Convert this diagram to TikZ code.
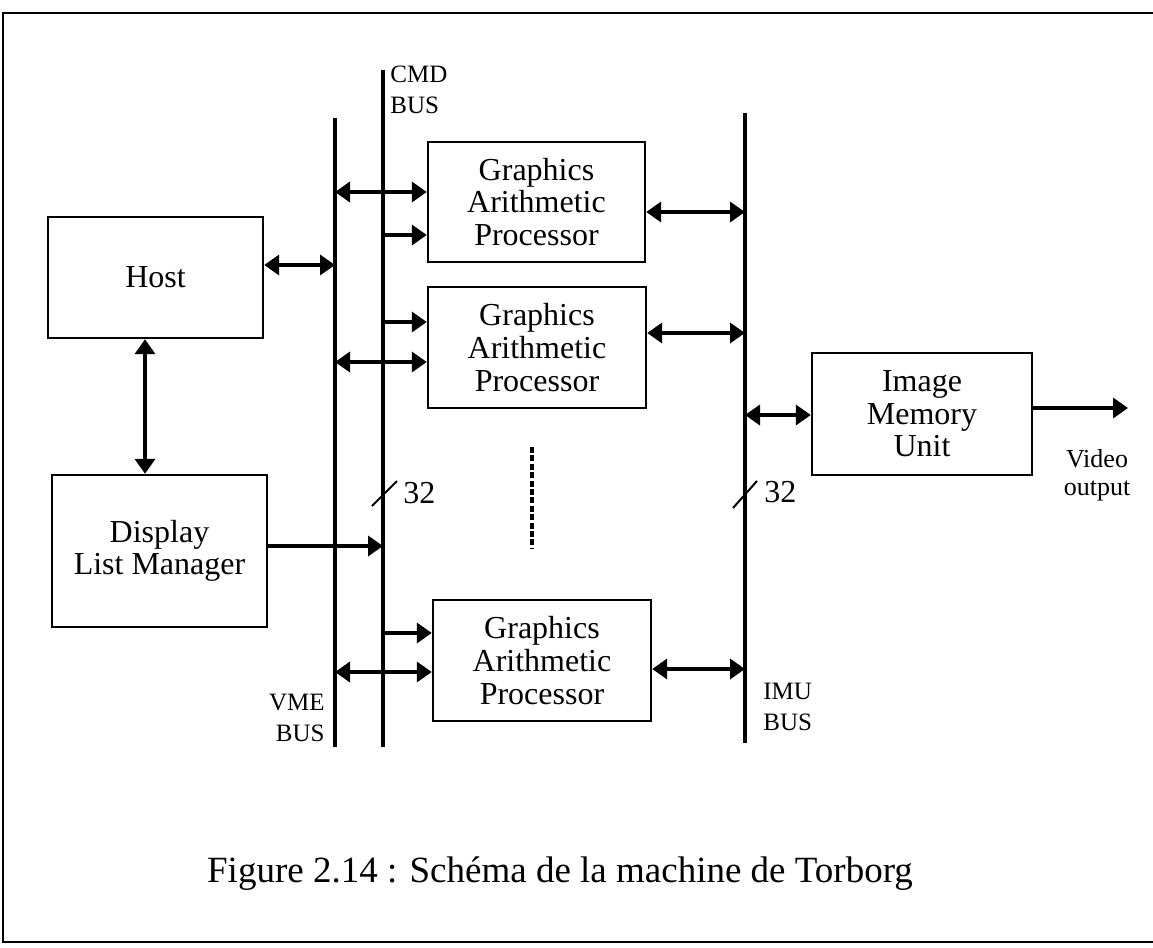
\documentclass[tikz,border=0pt]{standalone}
\usepackage{fontspec}
\setmainfont{Liberation Serif}
\usepackage{tikz}
\usetikzlibrary{arrows.meta, positioning}

\begin{document}
\begin{tikzpicture}[x=0.5pt, y=-0.5pt,
    unitbox/.style={draw, line width=1.2pt, inner sep=0pt, align=center,
                    font=\fontsize{16}{16.3}\selectfont},
    busline/.style={line width=2.4pt},
    duplex/.style={line width=1.8pt,
                   {Triangle[length=7.5pt, width=10pt]}-{Triangle[length=7.5pt, width=10pt]}},
    simplex/.style={line width=1.8pt, -{Triangle[length=7.5pt, width=10pt]}},
    buslabel/.style={inner sep=0pt, align=left, font=\fontsize{12.5}{15.8}\selectfont},
    widthlabel/.style={inner sep=0pt, anchor=west, font=\fontsize{16}{16}\selectfont}]
    \useasboundingbox (0,0) rectangle (1153,948);
    % frame
    \draw[line width=1.3pt] (1153,13) -- (3,13) -- (3,942) -- (1153,942);

    % units
    \node[unitbox, minimum width=107.5pt, minimum height=60.5pt] (host) at (155.5,277.5) {Host};
    \node[unitbox, minimum width=107.5pt, minimum height=76pt]   (dlm)  at (159.5,551) {Display\\List Manager};
    \node[unitbox, minimum width=108.5pt, minimum height=60pt]   (gap1) at (536.5,202) {Graphics\\Arithmetic\\Processor};
    \node[unitbox, minimum width=109pt,   minimum height=60.5pt] (gap2) at (537,347.5) {Graphics\\Arithmetic\\Processor};
    \node[unitbox, minimum width=109pt,   minimum height=60.5pt] (gap3) at (542,660.5) {Graphics\\Arithmetic\\Processor};
    \node[unitbox, minimum width=110pt,   minimum height=61pt]   (imu)  at (922,414) {Image\\Memory\\Unit};

    % buses
    \coordinate (vmeT) at (335,118);  \coordinate (vmeB) at (335,747);
    \coordinate (cmdT) at (383,70);   \coordinate (cmdB) at (383,747);
    \coordinate (imuT) at (745,113);  \coordinate (imuB) at (745,743);
    \draw[busline] (vmeT) -- (vmeB);
    \draw[busline] (cmdT) -- (cmdB);
    \draw[busline] (imuT) -- (imuB);
    \node[buslabel, anchor=west] (cmdlbl) at (390,90) {CMD\\BUS};
    \node[buslabel, anchor=east, align=right] (vmelbl) at (325,718) {VME\\BUS};
    \node[buslabel, anchor=west] (imulbl) at (763,707) {IMU\\BUS};

    % bus widths
    \draw[line width=1pt] (372,506) -- (397,481);
    \node[widthlabel] (cmdw) at (403,493) {32};
    \draw[line width=1pt] (733,508) -- (757,481);
    \node[widthlabel] (imuw) at (764,492) {32};

    % more processors
    \draw[line width=2pt, dash pattern=on 3pt off 1.2pt] (532,447) -- (532,548);

    % connections
    \draw[duplex]  (host.east |- 0,265) -- (vmeT |- 0,265);
    \draw[duplex]  (host.south -| 145,0) -- (dlm.north -| 145,0);
    \draw[simplex] (dlm.east |- 0,546) -- (cmdT |- 0,546);
    \draw[duplex]  (vmeT |- 0,192) -- (gap1.west |- 0,192);
    \draw[simplex] (cmdT |- 0,235) -- (gap1.west |- 0,235);
    \draw[duplex]  (gap1.east |- 0,212) -- (imuT |- 0,212);
    \draw[simplex] (cmdT |- 0,322) -- (gap2.west |- 0,322);
    \draw[duplex]  (vmeT |- 0,362) -- (gap2.west |- 0,362);
    \draw[duplex]  (gap2.east |- 0,333) -- (imuT |- 0,333);
    \draw[simplex] (cmdT |- 0,633) -- (gap3.west |- 0,633);
    \draw[duplex]  (vmeT |- 0,672) -- (gap3.west |- 0,672);
    \draw[duplex]  (gap3.east |- 0,669) -- (imuT |- 0,669);
    \draw[duplex]  (imuT |- 0,415) -- (imu.west |- 0,415);
    \coordinate (vidout) at (1128,408);
    \draw[simplex] (imu.east |- vidout) -- (vidout);
    \node[inner sep=0pt, align=center, anchor=north, font=\fontsize{13}{14}\selectfont] (vidlbl) at (1097,449) {Video\\output};

    % caption
    \node[inner sep=0pt, anchor=base, font=\fontsize{18.5}{18.5}\selectfont] (caption) at (560,882) {Figure 2.14 : Schéma de la machine de Torborg};
\end{tikzpicture}
\end{document}
